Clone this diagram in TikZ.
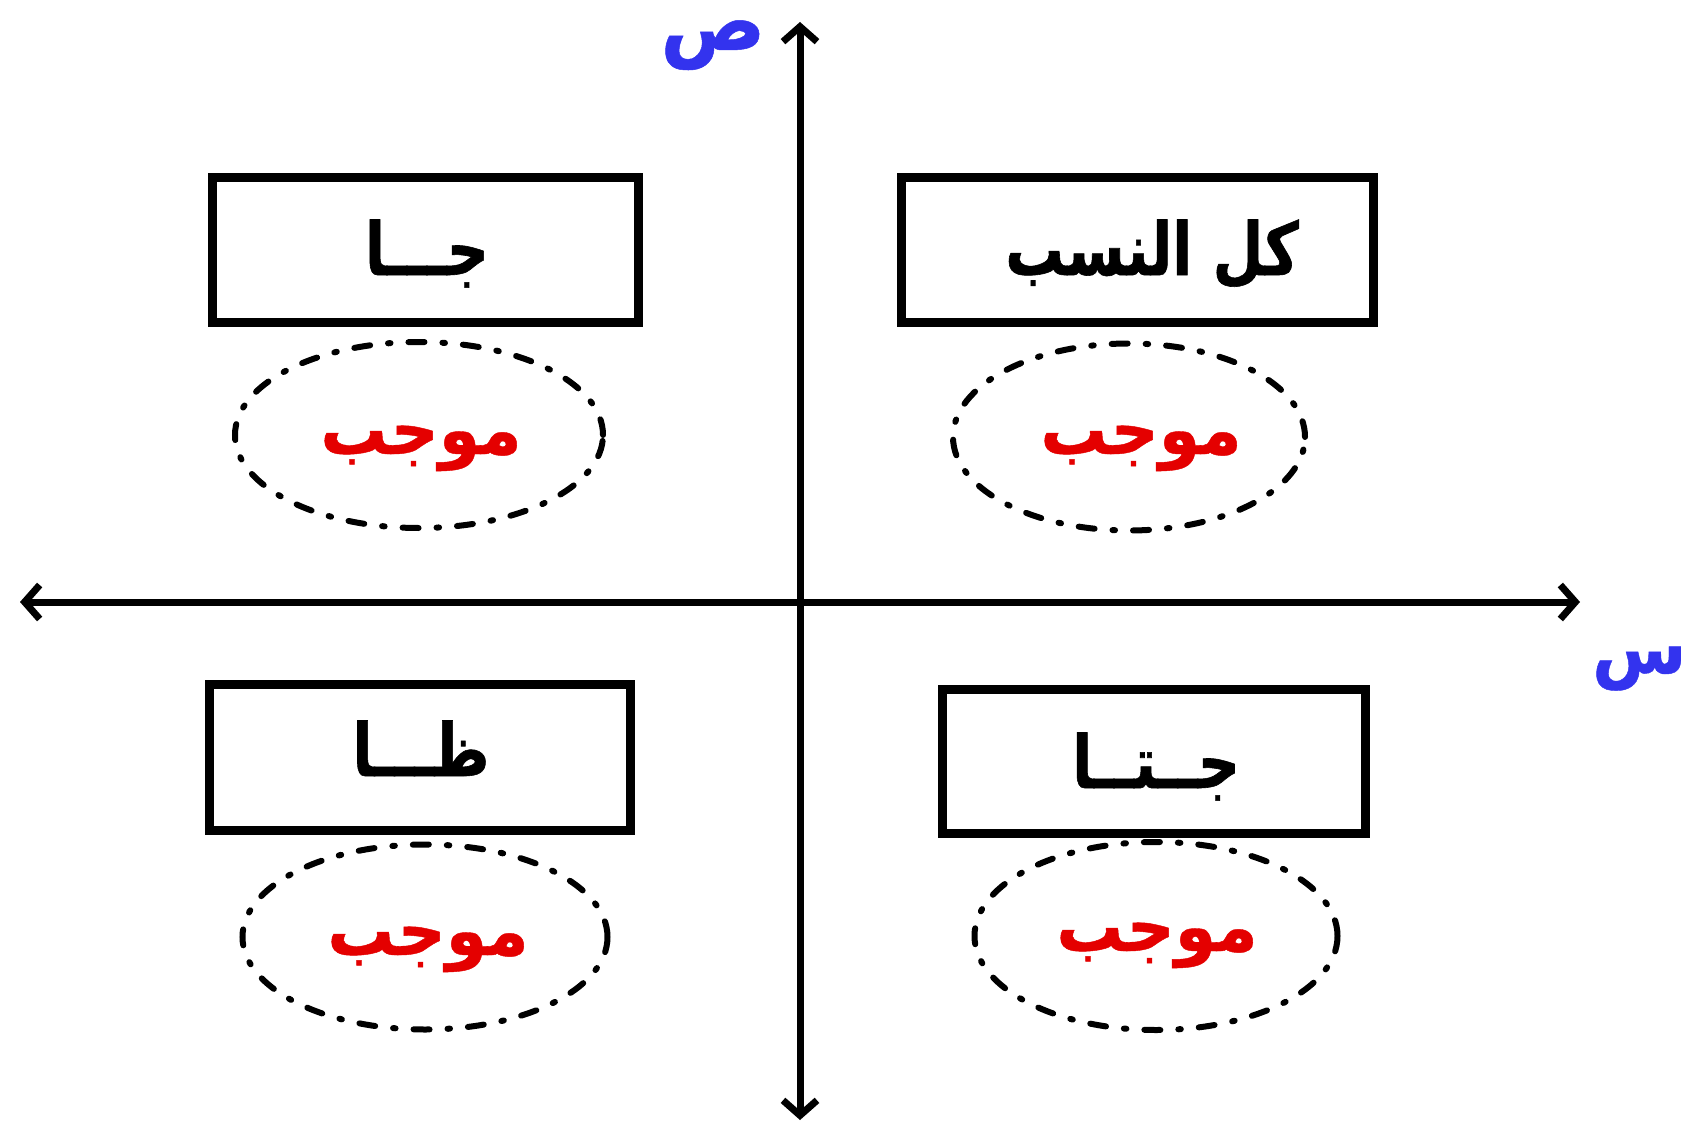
\documentclass[tikz,border=0pt]{standalone}
\usepackage{fontspec}
\TeXXeTstate=1
\newfontfamily\arboxfont[Script=Arabic,FakeStretch=0.8,FakeBold=0.8]{DejaVu Sans Bold}
\newfontfamily\arsignfont[Script=Arabic,FakeStretch=0.95,FakeBold=0.6]{DejaVu Sans Bold}
\usetikzlibrary{arrows.meta,shapes.geometric}
\definecolor{axisblue}{RGB}{51,51,238}
\definecolor{posred}{RGB}{228,0,0}
\tikzset{
  axisline/.style={line width=7pt, {Straight Barb[length=15pt,width=34pt]}-{Straight Barb[length=15pt,width=34pt]}},
  ratiobox/.style={draw, line width=9pt, rectangle, inner sep=0pt},
  signoval/.style={draw, ellipse, inner sep=0pt, line width=6pt, line cap=round,
     dash pattern=on 16pt off 18pt on 2.5pt off 18pt},
  boxtext/.style={font=\fontsize{73}{80}\selectfont\arboxfont, anchor=base, inner sep=0pt},
  signtext/.style={font=\fontsize{70}{80}\selectfont\arsignfont, text=posred, anchor=base, inner sep=0pt},
  axislabel/.style={font=\fontsize{82}{86}\selectfont\arsignfont, text=axisblue, inner sep=0pt}
}
\begin{document}
\begin{tikzpicture}[x=1pt,y=-1pt]
\useasboundingbox (0,0) rectangle (1681,1126);
% axes
\coordinate (ytop) at (800,22);
\coordinate (ybot) at (800,1120);
\coordinate (xleft) at (20,602);
\coordinate (xright) at (1580,602);
\draw[axisline] (ybot) -- (ytop);
\draw[axisline] (xleft) -- (xright);
\node[axislabel, anchor=base] (ylabel) at (713,50) {\beginR ص\endR};
\node[axislabel, anchor=base west, font=\fontsize{72}{80}\selectfont\arsignfont] (xlabel) at (1592,673) {\beginR س\endR};
% boxes
\node[ratiobox, minimum width=426pt, minimum height=145pt] (b1) at (425.5,250) {};
\node[ratiobox, minimum width=472pt, minimum height=145pt] (b2) at (1137.5,250) {};
\node[ratiobox, minimum width=421pt, minimum height=146pt] (b3) at (420,757.5) {};
\node[ratiobox, minimum width=423pt, minimum height=144pt] (b4) at (1154,761.5) {};
\node[boxtext] (t1) at (427,275) {\beginR جـــا\endR};
\node[boxtext] (t2) at (1152,275) {\beginR كل النسب\endR};
\node[boxtext] (t3) at (421,776) {\beginR ظـــا\endR};
\node[boxtext] (t4) at (1156,788) {\beginR جــتــا\endR};
% ovals
\node[signoval, minimum width=368pt, minimum height=186pt] (e1) at (419,435) {};
\node[signoval, minimum width=352pt, minimum height=187pt] (e2) at (1129,437) {};
\node[signoval, minimum width=365pt, minimum height=185pt] (e3) at (425,937) {};
\node[signoval, minimum width=363pt, minimum height=188pt] (e4) at (1156,936) {};
\node[signtext] (s1) at (421,454) {\beginR موجب\endR};
\node[signtext] (s2) at (1141,454) {\beginR موجب\endR};
\node[signtext] (s3) at (428,955) {\beginR موجب\endR};
\node[signtext] (s4) at (1157,951) {\beginR موجب\endR};
\end{tikzpicture}
\end{document}
